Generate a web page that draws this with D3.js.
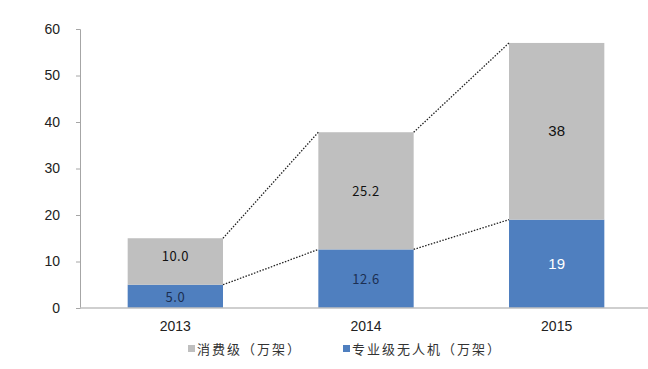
<!DOCTYPE html>
<html>
<head>
<meta charset="utf-8">
<script src="https://cdn.jsdelivr.net/npm/d3@7"></script>
<style>
  body { margin: 0; background: #fff; }
  svg { display: block; }
</style>
</head>
<body>
<div id="chart"></div>
<script>
// data
var years = ["2013", "2014", "2015"];
var proValues = [5.0, 12.6, 19];        // 专业级无人机
var consumerValues = [10.0, 25.2, 38];  // 消费级
var proLabels = ["5.0", "12.6", "19"];
var consumerLabels = ["10.0", "25.2", "38"];
var yTicks = [0, 10, 20, 30, 40, 50, 60];
var seriesNames = ["消费级（万架）", "专业级无人机（万架）"];

var width = 648, height = 369;
var plotLeft = 80, plotRight = 652, plotTop = 29, plotBottom = 308;

var grayClr = "#bfbfbf";
var blueClr = "#4f7fbf";

var svg = d3.select("#chart").append("svg")
  .attr("width", width)
  .attr("height", height);

var x = d3.scaleBand()
  .domain(years)
  .range([plotLeft, plotRight])
  .paddingInner(0.5)
  .paddingOuter(0.25);

var y = d3.scaleLinear()
  .domain([0, 60])
  .range([plotBottom, plotTop]);

// y axis
var yAxis = svg.append("g")
  .attr("transform", "translate(" + plotLeft + ",0)")
  .call(d3.axisLeft(y).tickValues(yTicks).tickSize(4).tickPadding(16));
yAxis.select(".domain").attr("stroke", "#a6a6a6");
yAxis.selectAll(".tick line").attr("stroke", "#a6a6a6");
yAxis.selectAll("text")
  .style("font-family", "Liberation Sans, Arial, sans-serif")
  .style("font-size", "14px")
  .attr("fill", "#222");

// stacked bars
var rows = years.map(function(yr, i) {
  return { year: yr, pro: proValues[i], con: consumerValues[i], total: proValues[i] + consumerValues[i] };
});

svg.append("g").selectAll("rect.pro")
  .data(rows).enter().append("rect")
  .attr("class", "pro")
  .attr("x", function(d) { return x(d.year); })
  .attr("width", x.bandwidth())
  .attr("y", function(d) { return y(d.pro); })
  .attr("height", function(d) { return y(0) - y(d.pro); })
  .attr("fill", blueClr);

svg.append("g").selectAll("rect.con")
  .data(rows).enter().append("rect")
  .attr("class", "con")
  .attr("x", function(d) { return x(d.year); })
  .attr("width", x.bandwidth())
  .attr("y", function(d) { return y(d.total); })
  .attr("height", function(d) { return y(d.pro) - y(d.total); })
  .attr("fill", grayClr);

// dotted connectors
function connect(key) {
  for (var i = 0; i < rows.length - 1; i++) {
    var a = rows[i], b = rows[i + 1];
    svg.append("line")
      .attr("x1", x(a.year) + x.bandwidth())
      .attr("y1", y(a[key]))
      .attr("x2", x(b.year))
      .attr("y2", y(b[key]))
      .attr("stroke", "#222")
      .attr("stroke-width", 1.3)
      .attr("stroke-dasharray", "1.5,1.5");
  }
}
connect("total");
connect("pro");

// x axis
svg.append("line")
  .attr("x1", plotLeft).attr("x2", plotRight)
  .attr("y1", plotBottom).attr("y2", plotBottom)
  .attr("stroke", "#bfbfbf")
  .attr("stroke-width", 1.5);

svg.append("g").selectAll("text.year")
  .data(years).enter().append("text")
  .attr("x", function(d) { return x(d) + x.bandwidth() / 2; })
  .attr("y", 331)
  .attr("text-anchor", "middle")
  .style("font-family", "Liberation Sans, Arial, sans-serif")
  .style("font-size", "14px")
  .attr("fill", "#222")
  .text(function(d) { return d; });

// value labels
var labelFont = function(i) {
  return i < 2 ? "'Noto Sans CJK SC', sans-serif" : "Liberation Sans, Arial, sans-serif";
};

svg.append("g").selectAll("text.conlab")
  .data(rows).enter().append("text")
  .attr("x", function(d) { return x(d.year) + x.bandwidth() / 2; })
  .attr("y", function(d, i) { return y(d.pro + d.con / 2) + 5 - (i == 0 ? 6 : 0); })
  .attr("text-anchor", "middle")
  .style("font-family", function(d, i) { return labelFont(i); })
  .style("font-size", function(d, i) { return i < 2 ? "13px" : "15px"; })
  .style("letter-spacing", function(d, i) { return i < 2 ? "0.5px" : "0px"; })
  .attr("fill", "#111")
  .text(function(d, i) { return consumerLabels[i]; });

svg.append("g").selectAll("text.prolab")
  .data(rows).enter().append("text")
  .attr("x", function(d) { return x(d.year) + x.bandwidth() / 2; })
  .attr("y", function(d, i) { return y(d.pro / 2) + 5 + (i == 0 ? 1 : 0); })
  .attr("text-anchor", "middle")
  .style("font-family", function(d, i) { return labelFont(i); })
  .style("font-size", function(d, i) { return i < 2 ? "13px" : "15px"; })
  .style("letter-spacing", function(d, i) { return i < 2 ? "0.5px" : "0px"; })
  .attr("fill", function(d, i) { return i < 2 ? "#1c2f52" : "#fff"; })
  .text(function(d, i) { return proLabels[i]; });

// legend
var legendX = [188, 343];
var legendClr = [grayClr, blueClr];
var leg = svg.append("g");
seriesNames.forEach(function(name, i) {
  leg.append("rect")
    .attr("x", legendX[i])
    .attr("y", 345)
    .attr("width", 7)
    .attr("height", 7)
    .attr("fill", legendClr[i]);
  leg.append("text")
    .attr("x", legendX[i] + 9)
    .attr("y", 354)
    .style("font-family", "'Noto Sans CJK SC', sans-serif")
    .style("font-size", "13px")
    .style("letter-spacing", "2px")
    .attr("fill", "#333")
    .text(name);
});
</script>
</body>
</html>
